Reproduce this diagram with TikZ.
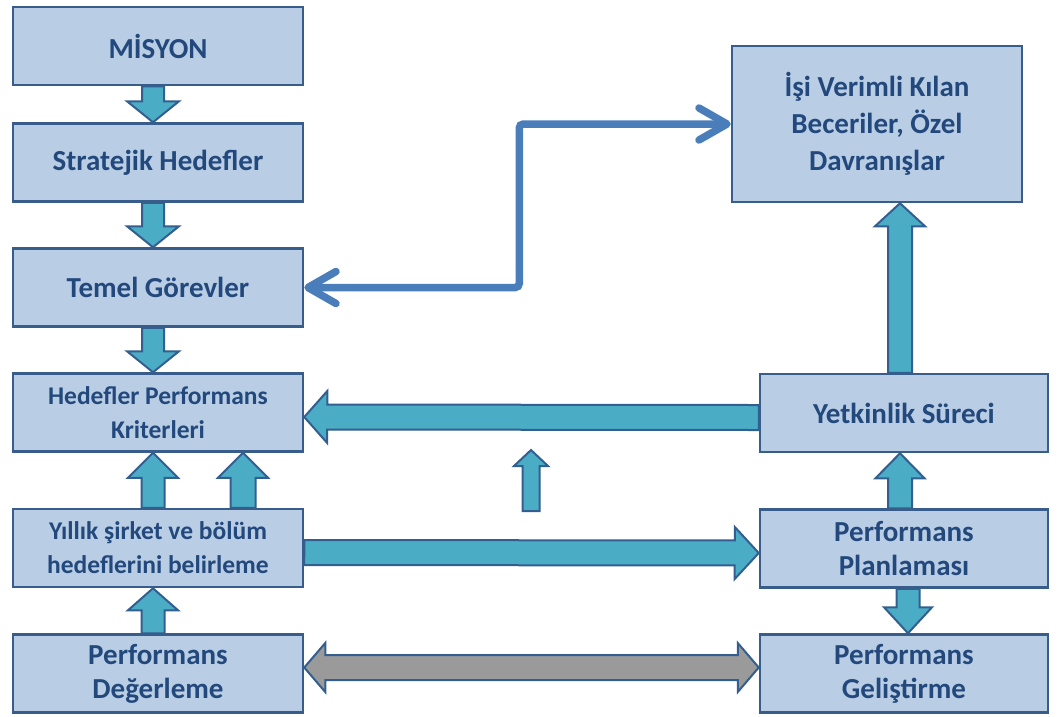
\documentclass[tikz,border=0pt]{standalone}
\usepackage{fontspec}
\setmainfont{Carlito}
\usetikzlibrary{calc,arrows.meta}

\definecolor{boxfill}{HTML}{B9CDE5}
\definecolor{boxline}{HTML}{385D8A}
\definecolor{boxtext}{HTML}{22487C}
\definecolor{arrfill}{HTML}{4BACC6}
\definecolor{arrline}{HTML}{335E90}
\definecolor{linkblue}{HTML}{4A7EBB}
\definecolor{arrgray}{HTML}{9A9A9A}

\pgfdeclarelayer{bg}
\pgfsetlayers{bg,main}

% block arrow: [style]{from}{to}{shaft half}{head half}{head length}
\newcommand{\blockarrow}[6][]{%
  \draw[blockarr,#1] let \p1=(#2), \p2=(#3), \n1={veclen(\x2-\x1,\y2-\y1)},
      \n2={(\x2-\x1)/\n1}, \n3={(\y2-\y1)/\n1} in
    ({\x1-#4*\n3},{\y1+#4*\n2}) -- ({\x2-#6*\n2-#4*\n3},{\y2-#6*\n3+#4*\n2})
    -- ({\x2-#6*\n2-#5*\n3},{\y2-#6*\n3+#5*\n2}) -- (\p2)
    -- ({\x2-#6*\n2+#5*\n3},{\y2-#6*\n3-#5*\n2}) -- ({\x2-#6*\n2+#4*\n3},{\y2-#6*\n3-#4*\n2})
    -- ({\x1+#4*\n3},{\y1-#4*\n2}) -- cycle;}
% same, with a head at both ends
\newcommand{\dblarrow}[6][]{%
  \draw[blockarr,#1] let \p1=(#2), \p2=(#3), \n1={veclen(\x2-\x1,\y2-\y1)},
      \n2={(\x2-\x1)/\n1}, \n3={(\y2-\y1)/\n1} in
    (\p1) -- ({\x1+#6*\n2-#5*\n3},{\y1+#6*\n3+#5*\n2}) -- ({\x1+#6*\n2-#4*\n3},{\y1+#6*\n3+#4*\n2})
    -- ({\x2-#6*\n2-#4*\n3},{\y2-#6*\n3+#4*\n2}) -- ({\x2-#6*\n2-#5*\n3},{\y2-#6*\n3+#5*\n2})
    -- (\p2)
    -- ({\x2-#6*\n2+#5*\n3},{\y2-#6*\n3-#5*\n2}) -- ({\x2-#6*\n2+#4*\n3},{\y2-#6*\n3-#4*\n2})
    -- ({\x1+#6*\n2+#4*\n3},{\y1+#6*\n3-#4*\n2}) -- ({\x1+#6*\n2+#5*\n3},{\y1+#6*\n3-#5*\n2})
    -- cycle;}

\tikzset{
  box/.style={draw=boxline,fill=boxfill,line width=2.5pt,minimum width=290pt,
    minimum height=78pt,inner sep=0pt,align=center,text=boxtext,
    font=\bfseries\fontsize{29}{34}\selectfont},
  smallbox/.style={box,font=\bfseries\fontsize{25.5}{34}\selectfont},
  rbox/.style={box,minimum width=288pt},
  blockarr/.style={draw=arrline,fill=arrfill,line width=2pt,line join=miter},
  link/.style={draw=linkblue,line width=7.5pt,line cap=round,rounded corners=4pt,
    {Straight Barb[length=28pt,width=32pt,line cap=round,line join=round]}-{Straight Barb[length=28pt,width=32pt,line cap=round,line join=round]}},
}

\begin{document}
\begin{tikzpicture}[x=1pt,y=-1pt]
  \useasboundingbox (0,0) rectangle (1059,716);

  % left column
  \node[box] (misyon) at (158,46) {MİSYON};
  \node[box] (strat) at (158,162.5) {Stratejik Hedefler};
  \node[box] (temel) at (158,287.5) {Temel Görevler};
  \node[smallbox] (kriter) at (158,412.5) {Hedefler Performans\\Kriterleri};
  \node[smallbox] (yillik) at (158,548) {Yıllık şirket ve bölüm\\hedeflerini belirleme};
  \node[box] (degerleme) at (158,673.5) {Performans\\Değerleme};

  % right column
  \node[box,minimum height=156pt,font=\bfseries\fontsize{29}{37}\selectfont] (beceri) at (877,124)
    {İşi Verimli Kılan\\Beceriler, Özel\\Davranışlar};
  \node[rbox] (yetkin) at (904,413) {Yetkinlik Süreci};
  \node[rbox] (plan) at (904,548.5) {Performans\\Planlaması};
  \node[rbox] (gelistir) at (904,673.5) {Performans\\Geliştirme};

  \coordinate (ok1) at (531,511);
  \coordinate (ok2) at (531,450);

  \begin{pgfonlayer}{bg}
    \blockarrow{[xshift=-5pt]misyon.south}{[xshift=-5pt]strat.north}{11}{26}{21}
    \blockarrow{[xshift=-5pt]strat.south}{[xshift=-5pt]temel.north}{11}{26}{21}
    \blockarrow{[xshift=-5pt]temel.south}{[xshift=-5pt]kriter.north}{11}{26}{21}
    \blockarrow{[xshift=-5pt]yillik.north}{[xshift=-5pt]kriter.south}{11.5}{25}{25}
    \blockarrow{[xshift=85pt]yillik.north}{[xshift=85pt]kriter.south}{12.5}{25}{25}
    \blockarrow{[xshift=-5pt]degerleme.north}{[xshift=-5pt]yillik.south}{11.5}{25}{22}
    \blockarrow{[yshift=-4.5pt]yetkin.west}{[yshift=-4.5pt]kriter.east}{12.5}{26}{23}
    \blockarrow{[yshift=-4.5pt]yillik.east}{[yshift=-4.5pt]plan.west}{12.5}{26}{24}
    \dblarrow[fill=arrgray]{[yshift=6pt]degerleme.east}{[yshift=6pt]gelistir.west}{12.5}{24.5}{21}
    \blockarrow{[xshift=-4pt]plan.north}{[xshift=-4pt]yetkin.south}{12}{24.5}{25}
    \blockarrow{[xshift=4pt]plan.south}{[xshift=4pt]gelistir.north}{11.5}{24}{26}
    \blockarrow{[xshift=-4pt]yetkin.north}{[xshift=23pt]beceri.south}{12}{25}{23}
    \blockarrow{ok1}{ok2}{8.5}{17}{16}
  \end{pgfonlayer}

  \draw[link] (temel.east) -- ++(215,0) |- (beceri.west);
\end{tikzpicture}
\end{document}
